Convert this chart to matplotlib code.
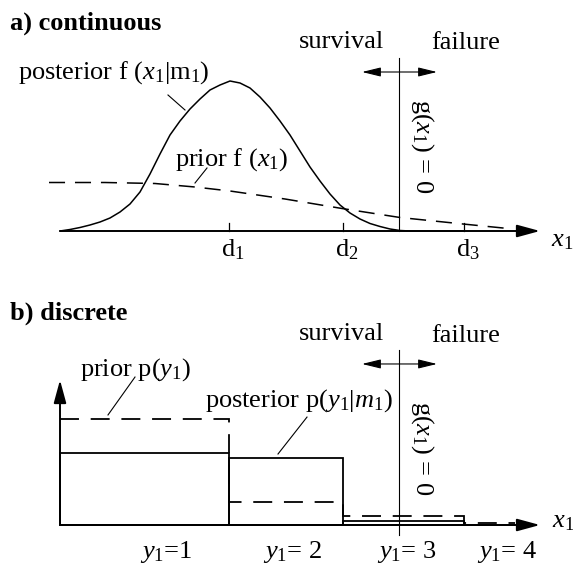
import numpy as np
import matplotlib.pyplot as plt

plt.rcParams['font.family'] = 'Liberation Serif'
plt.rcParams['mathtext.fontset'] = 'custom'
plt.rcParams['mathtext.rm'] = 'Liberation Serif'
plt.rcParams['mathtext.it'] = 'Liberation Serif:italic'
plt.rcParams['mathtext.bf'] = 'Liberation Serif:bold'

# a) continuous: densities along x1
post_x = [0.0, 0.1, 0.2, 0.3, 0.4, 0.5, 0.6, 0.7, 0.8, 0.9, 1.0, 1.1, 1.2, 1.3,
          1.4, 1.5, 1.6, 1.7, 1.8, 1.9, 2.0, 2.1, 2.2, 2.3, 2.4, 2.5, 2.6, 2.7,
          2.8, 2.9, 3.0, 3.1, 3.2, 3.3, 3.4, 3.5, 4.04]
post_f = [0.0, 0.015, 0.035, 0.06, 0.09, 0.13, 0.19, 0.27, 0.39, 0.57, 0.77, 0.96,
          1.10, 1.22, 1.32, 1.41, 1.46, 1.50, 1.48, 1.43, 1.34, 1.23, 1.10, 0.96,
          0.80, 0.64, 0.50, 0.37, 0.26, 0.18, 0.12, 0.075, 0.045, 0.02, 0.005,
          0.0, 0.0]
prior_x = [-0.11, 0.45, 0.95, 1.35, 1.70, 2.25, 2.82, 3.40, 4.03, 4.53]
prior_f = [0.485, 0.485, 0.475, 0.44, 0.40, 0.32, 0.225, 0.135, 0.07, 0.02]
d_ticks = [1.69, 2.83, 4.04]
d_labels = [r'$\mathrm{d}_1$', r'$\mathrm{d}_2$', r'$\mathrm{d}_3$']
g_limit = 3.39  # g(x1) = 0

# b) discrete: classes y1 = 1..4
y_edges = [0.0, 1.69, 2.83, 4.04, 4.55]
prior_p = [0.75, 0.165, 0.065, 0.016]
post_p = [0.505, 0.47, 0.027, 0.003]
y_labels = [r'$y_{\mathit{1}}$=1', r'$y_{\mathit{1}}$= 2',
            r'$y_{\mathit{1}}$= 3', r'$y_{\mathit{1}}$= 4']
y_label_x = [0.80, 2.03, 3.17, 4.17]

FS = 19
DASH = (0, (10.5, 6.5))
x1 = r'$x_{\mathit{1}}$'


def arrow(ax, start, end, style='-|>,head_length=1.4,head_width=0.38', lw=1.4):
    ax.annotate('', xy=end, xytext=start,
                arrowprops=dict(arrowstyle=style, mutation_scale=10, lw=lw,
                                color='black', shrinkA=0, shrinkB=0))


def limit_state(ax, y0, y1, y_arrow, gy):
    ax.plot([g_limit, g_limit], [y0, y1], color='black', lw=0.8)
    arrow(ax, (3.77, y_arrow), (3.02, y_arrow),
          style='<|-|>,head_length=1.15,head_width=0.28', lw=0.8)
    ax.text(3.62, gy, r'g($x_{\mathit{1}}$) = 0', fontsize=FS, rotation=270,
            ha='center', va='center')


fig = plt.figure(figsize=(5.73, 5.65), dpi=100)
ax_a = fig.add_axes([0, 285 / 565, 1, 280 / 565])
ax_b = fig.add_axes([0, 0, 1, 285 / 565])
ax_a.set_xlim(-0.60, 5.13)
ax_a.set_ylim(-0.49, 2.31)
ax_b.set_xlim(-0.60, 5.13)
ax_b.set_ylim(-40 / 142, 245 / 142)
for ax in (ax_a, ax_b):
    ax.axis('off')

# ---- a) continuous
ax_a.plot(post_x, post_f, color='black', lw=1.1, solid_joinstyle='round')
ax_a.plot(prior_x, prior_f, color='black', lw=1.1, linestyle=DASH)
arrow(ax_a, (0, 0), (4.80, 0))
for d, lab in zip(d_ticks, d_labels):
    ax_a.plot([d, d], [0, 0.08], color='black', lw=0.9)
    ax_a.text(d + 0.04, -0.257, lab, fontsize=FS, ha='center', va='baseline')
limit_state(ax_a, 0, 1.73, 1.59, 0.845)

ax_a.text(-0.50, 2.01, 'a) continuous', fontsize=FS, fontweight='bold', va='baseline')
ax_a.text(-0.42, 1.52, r'posterior f ($x_{\mathit{1}}$|$\mathrm{m}_1$)',
          fontsize=FS, va='baseline')
ax_a.plot([1.08, 1.25], [1.36, 1.21], color='black', lw=0.8)
ax_a.text(1.15, 0.653, r'prior f ($x_{\mathit{1}}$)', fontsize=FS, va='baseline')
ax_a.plot([1.47, 1.35], [0.63, 0.48], color='black', lw=0.8)
ax_a.text(2.81, 1.833, 'survival', fontsize=FS, ha='center', va='baseline')
ax_a.text(4.06, 1.817, 'failure', fontsize=FS, ha='center', va='baseline')
ax_a.text(4.91, -0.157, x1, fontsize=FS, va='baseline')

# ---- b) discrete
widths = np.diff(y_edges)
ax_b.bar(y_edges[:-1], post_p, width=widths, align='edge', fill=False,
         edgecolor='black', lw=1.3)
ax_b.stairs(prior_p, y_edges, baseline=None, color='black', lw=1.3, linestyle=DASH)
arrow(ax_b, (0, 0), (4.80, 0))
arrow(ax_b, (0, 0), (0, 1.021))
limit_state(ax_b, -0.07, 1.232, 1.134, 0.542)
for xl, lab in zip(y_label_x, y_labels):
    ax_b.text(xl, -0.235, lab, fontsize=FS, va='baseline')

ax_b.text(-0.50, 1.444, 'b) discrete', fontsize=FS, fontweight='bold', va='baseline')
ax_b.text(0.20, 1.049, r'prior p($y_{\mathit{1}}$)', fontsize=FS, va='baseline')
ax_b.plot([0.75, 0.48], [1.042, 0.775], color='black', lw=0.8)
ax_b.text(1.45, 0.831, r'posterior p($y_{\mathit{1}}$|$m_{\mathit{1}}$)',
          fontsize=FS, va='baseline')
ax_b.plot([2.47, 2.18], [0.76, 0.50], color='black', lw=0.8)
ax_b.text(2.81, 1.303, 'survival', fontsize=FS, ha='center', va='baseline')
ax_b.text(4.06, 1.291, 'failure', fontsize=FS, ha='center', va='baseline')
ax_b.text(4.92, -0.016, x1, fontsize=FS, va='baseline')

fig.savefig('out.png', dpi=100)
